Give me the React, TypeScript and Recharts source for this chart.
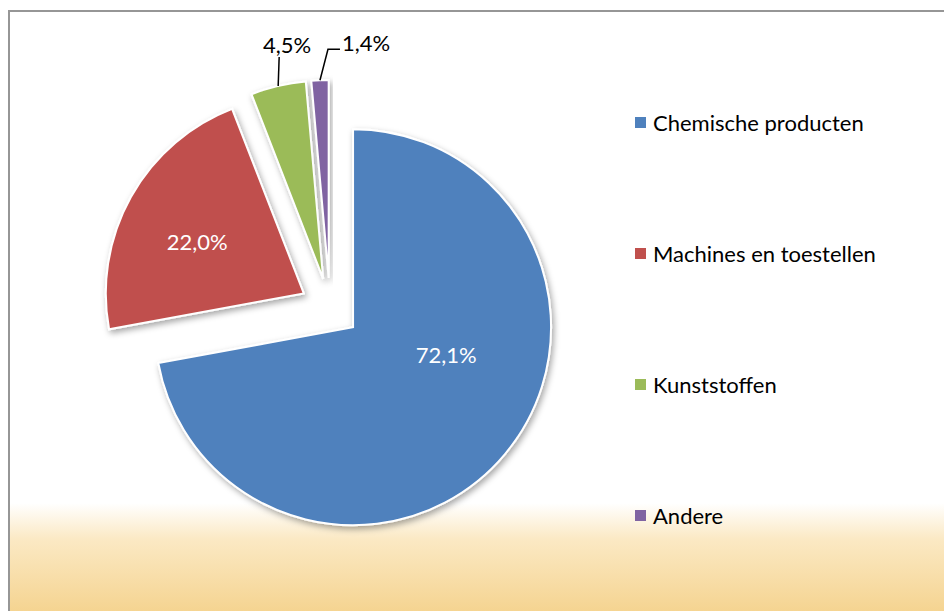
import React from "react";
import { PieChart, Pie, Cell, Legend } from "recharts";

const categories = ["Chemische producten", "Machines en toestellen", "Kunststoffen", "Andere"];
const shares = [72.1, 22.0, 4.5, 1.4];
const colors = ["#4f81bd", "#c0504d", "#9bbb59", "#8064a2"];

const RADIAN = Math.PI / 180;
const W = 934;
const H = 599;
const CX = 320;
const CY = 296;
const R = 198;
const EXPLODE = 30;
const FONT = "Lato, 'Open Sans', sans-serif";

const total = shares.reduce((a, b) => a + b, 0);

// each slice gets its own Pie so it can be pulled out from the centre
const slices = shares.map((v, i) => {
  const before = shares.slice(0, i).reduce((a, b) => a + b, 0);
  const startAngle = 90 - (before / total) * 360;
  const endAngle = 90 - ((before + v) / total) * 360;
  const mid = (startAngle + endAngle) / 2;
  return {
    index: i,
    data: [{ name: categories[i], value: v }],
    startAngle,
    endAngle,
    cx: CX + EXPLODE * Math.cos(mid * RADIAN),
    cy: CY - EXPLODE * Math.sin(mid * RADIAN),
  };
});

const fmt = (v: number) => `${v.toFixed(1).replace(".", ",")}%`;

// inside labels: fraction of radius and angle shift from the slice middle
const insideLabel: Record<number, { frac: number; shift: number }> = {
  0: { frac: 0.49, shift: 23.6 },
  1: { frac: 0.6, shift: 3 },
};

function makeLabel(i: number) {
  return (props: any) => {
    const { cx, cy, midAngle, outerRadius, value } = props;
    if (insideLabel[i]) {
      const { frac, shift } = insideLabel[i];
      const a = (midAngle + shift) * RADIAN;
      const x = cx + outerRadius * frac * Math.cos(a);
      const y = cy - outerRadius * frac * Math.sin(a);
      return (
        <text x={x} y={y} fill="#fff" fontSize={22} fontFamily={FONT} textAnchor="middle" dominantBaseline="central">
          {fmt(value)}
        </text>
      );
    }
    const px = cx + outerRadius * Math.cos(midAngle * RADIAN);
    const py = cy - outerRadius * Math.sin(midAngle * RADIAN);
    if (i === 2) {
      return (
        <g>
          <path d={`M${px},${py}L${px + 1},${py - 29}`} stroke="#000" strokeWidth={1.5} fill="none" />
          <text x={px + 9} y={py - 41} fill="#000" fontSize={22} fontFamily={FONT} textAnchor="middle" dominantBaseline="central">
            {fmt(value)}
          </text>
        </g>
      );
    }
    return (
      <g>
        <path d={`M${px},${py}L${px + 8},${py - 31}L${px + 20},${py - 31}`} stroke="#000" strokeWidth={1.5} fill="none" />
        <text x={px + 22} y={py - 38} fill="#000" fontSize={22} fontFamily={FONT} textAnchor="start" dominantBaseline="central">
          {fmt(value)}
        </text>
      </g>
    );
  };
}

const LegendContent = () => (
  <div style={{ fontFamily: FONT }}>
    {categories.map((c, i) => (
      <div key={c} style={{ height: 131, display: "flex", alignItems: "center" }}>
        <span style={{ width: 11, height: 11, background: colors[i], display: "inline-block", marginRight: 7 }} />
        <span style={{ fontSize: 22, color: "#000" }}>{c}</span>
      </div>
    ))}
  </div>
);

export default function App() {
  return (
    <div
      style={{
        position: "fixed",
        left: 8,
        top: 10,
        width: W,
        height: H,
        borderLeft: "2px solid #969696",
        borderTop: "2px solid #969696",
        background: "linear-gradient(to bottom, #ffffff 0%, #ffffff 82%, #fbe9c4 88%, #f5d491 100%)",
      }}
    >
      <svg width={0} height={0} style={{ position: "absolute" }}>
        <defs>
          <filter id="sliceShadow" x="-20%" y="-20%" width="140%" height="140%">
            <feDropShadow dx={2} dy={3} stdDeviation={3} floodColor="#000" floodOpacity={0.35} />
          </filter>
        </defs>
      </svg>
      <PieChart width={W} height={H} margin={{ top: 0, right: 0, bottom: 0, left: 0 }}>
        {slices.map((s) => (
          <Pie
            key={s.index}
            data={s.data}
            dataKey="value"
            nameKey="name"
            cx={s.cx}
            cy={s.cy}
            outerRadius={R}
            startAngle={s.startAngle}
            endAngle={s.endAngle}
            stroke="#fff"
            strokeWidth={2}
            label={makeLabel(s.index)}
            labelLine={false}
            isAnimationActive={false}
          >
            <Cell fill={colors[s.index]} filter="url(#sliceShadow)" />
          </Pie>
        ))}
        <Legend
          layout="vertical"
          align="right"
          verticalAlign="top"
          content={<LegendContent />}
          wrapperStyle={{ left: 625, top: 45, width: 300 }}
        />
      </PieChart>
    </div>
  );
}
